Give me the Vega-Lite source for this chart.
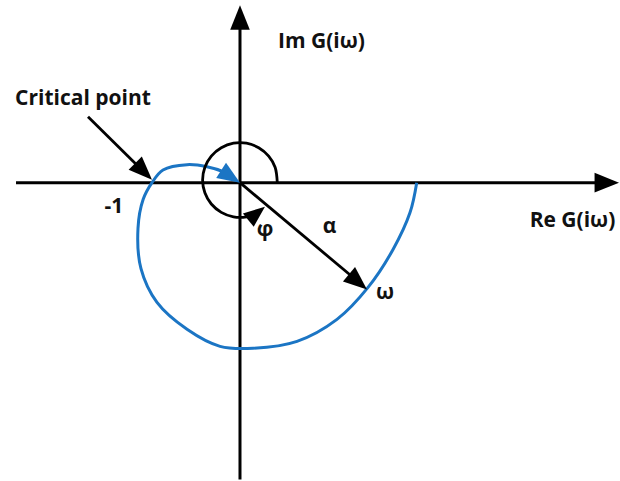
{
  "$schema": "https://vega.github.io/schema/vega-lite/v6.json",
  "width": 620,
  "height": 481,
  "autosize": {"type": "fit", "contains": "padding"},
  "padding": 0,
  "background": "white",
  "config": {"view": {"stroke": null}},
  "datasets": {
    "segments": [
      {"kind": "axis", "x": -2.545, "y": 0, "x2": 4.07, "y2": 0},
      {"kind": "axis", "x": 0, "y": -3.38, "x2": 0, "y2": 1.75},
      {"kind": "arrow", "x": -1.727, "y": 0.75, "x2": -1.12, "y2": 0.15},
      {"kind": "arrow", "x": 0, "y": 0, "x2": 1.31, "y2": -1.1}
    ],
    "curve": [
      {"i": 0, "x": 2.008, "y": 0},
      {"i": 1, "x": 1.932, "y": -0.341},
      {"i": 2, "x": 1.739, "y": -0.761},
      {"i": 3, "x": 1.455, "y": -1.193},
      {"i": 4, "x": 1.102, "y": -1.557},
      {"i": 5, "x": 0.648, "y": -1.807},
      {"i": 6, "x": 0.148, "y": -1.886},
      {"i": 7, "x": -0.227, "y": -1.864},
      {"i": 8, "x": -0.602, "y": -1.67},
      {"i": 9, "x": -0.943, "y": -1.364},
      {"i": 10, "x": -1.125, "y": -0.98},
      {"i": 11, "x": -1.159, "y": -0.52},
      {"i": 12, "x": -1.1, "y": -0.19},
      {"i": 13, "x": -1.0, "y": 0},
      {"i": 14, "x": -0.875, "y": 0.145},
      {"i": 15, "x": -0.602, "y": 0.205},
      {"i": 16, "x": -0.375, "y": 0.182},
      {"i": 17, "x": -0.193, "y": 0.125},
      {"i": 18, "x": -0.11, "y": 0.072}
    ],
    "arc": [
      {"i": 0, "x": 0.424, "y": 0},
      {"i": 1, "x": 0.399, "y": 0.175},
      {"i": 2, "x": 0.326, "y": 0.303},
      {"i": 3, "x": 0.2125, "y": 0.398},
      {"i": 4, "x": 0.074, "y": 0.449},
      {"i": 5, "x": -0.074, "y": 0.449},
      {"i": 6, "x": -0.2125, "y": 0.398},
      {"i": 7, "x": -0.326, "y": 0.303},
      {"i": 8, "x": -0.399, "y": 0.175},
      {"i": 9, "x": -0.425, "y": 0.03},
      {"i": 10, "x": -0.399, "y": -0.115},
      {"i": 11, "x": -0.326, "y": -0.243},
      {"i": 12, "x": -0.2125, "y": -0.338},
      {"i": 13, "x": -0.074, "y": -0.389},
      {"i": 14, "x": 0.074, "y": -0.389},
      {"i": 15, "x": 0.18, "y": -0.355}
    ],
    "heads": [
      {"kind": "axis", "x": 4.307, "y": 0, "angle": 90},
      {"kind": "axis", "x": 0, "y": 2.02, "angle": 0},
      {"kind": "arrow", "x": -1.0, "y": 0.034, "angle": 134.6},
      {"kind": "arrow", "x": 1.443, "y": -1.216, "angle": 130.1},
      {"kind": "blue", "x": 0, "y": 0, "angle": 123},
      {"kind": "arc", "x": 0.284, "y": -0.273, "angle": 51}
    ],
    "labels": [
      {"text": "Critical point", "x": -1.784, "y": 0.886},
      {"text": "Im G(iω)", "x": 0.926, "y": 1.534},
      {"text": "Re G(iω)", "x": 3.778, "y": -0.5},
      {"text": "-1", "x": -1.432, "y": -0.341},
      {"text": "φ", "x": 0.284, "y": -0.61},
      {"text": "α", "x": 1.017, "y": -0.568},
      {"text": "ω", "x": 1.648, "y": -1.33}
    ]
  },
  "layer": [
    {
      "data": {"name": "segments"},
      "mark": {"type": "rule", "color": "black"},
      "encoding": {
        "x": {"field": "x", "type": "quantitative", "scale": {"domain": [-2.727, 4.318], "nice": false, "zero": false}, "axis": null},
        "y": {"field": "y", "type": "quantitative", "scale": {"domain": [-3.386, 2.08], "nice": false, "zero": false}, "axis": null},
        "x2": {"field": "x2"},
        "y2": {"field": "y2"},
        "strokeWidth": {"field": "kind", "type": "nominal", "scale": {"domain": ["axis", "arrow"], "range": [3, 2.8]}, "legend": null}
      }
    },
    {
      "data": {"name": "curve"},
      "mark": {"type": "line", "color": "#1b75c4", "strokeWidth": 3, "interpolate": "catmull-rom"},
      "encoding": {
        "x": {"field": "x", "type": "quantitative", "scale": {"domain": [-2.727, 4.318], "nice": false, "zero": false}, "axis": null},
        "y": {"field": "y", "type": "quantitative", "scale": {"domain": [-3.386, 2.08], "nice": false, "zero": false}, "axis": null},
        "order": {"field": "i", "type": "quantitative"}
      }
    },
    {
      "data": {"name": "arc"},
      "mark": {"type": "line", "color": "black", "strokeWidth": 2.8, "interpolate": "catmull-rom"},
      "encoding": {
        "x": {"field": "x", "type": "quantitative", "scale": {"domain": [-2.727, 4.318], "nice": false, "zero": false}, "axis": null},
        "y": {"field": "y", "type": "quantitative", "scale": {"domain": [-3.386, 2.08], "nice": false, "zero": false}, "axis": null},
        "order": {"field": "i", "type": "quantitative"}
      }
    },
    {
      "data": {"name": "heads"},
      "mark": {"type": "point", "shape": "M0,0L-0.8,2L0.8,2Z", "filled": true, "opacity": 1, "strokeWidth": 0},
      "encoding": {
        "x": {"field": "x", "type": "quantitative", "scale": {"domain": [-2.727, 4.318], "nice": false, "zero": false}, "axis": null},
        "y": {"field": "y", "type": "quantitative", "scale": {"domain": [-3.386, 2.08], "nice": false, "zero": false}, "axis": null},
        "angle": {"field": "angle", "type": "quantitative", "scale": null},
        "size": {"field": "kind", "type": "nominal", "scale": {"domain": ["axis", "arrow", "blue", "arc"], "range": [600, 460, 220, 200]}, "legend": null},
        "color": {"field": "kind", "type": "nominal", "scale": {"domain": ["axis", "arrow", "blue", "arc"], "range": ["black", "black", "#1b75c4", "black"]}, "legend": null}
      }
    },
    {
      "data": {"name": "labels"},
      "mark": {"type": "text", "font": "Open Sans", "fontWeight": "bold", "fontSize": 21, "color": "#111111", "align": "center", "baseline": "alphabetic"},
      "encoding": {
        "x": {"field": "x", "type": "quantitative", "scale": {"domain": [-2.727, 4.318], "nice": false, "zero": false}, "axis": null},
        "y": {"field": "y", "type": "quantitative", "scale": {"domain": [-3.386, 2.08], "nice": false, "zero": false}, "axis": null},
        "text": {"field": "text"}
      }
    }
  ]
}
